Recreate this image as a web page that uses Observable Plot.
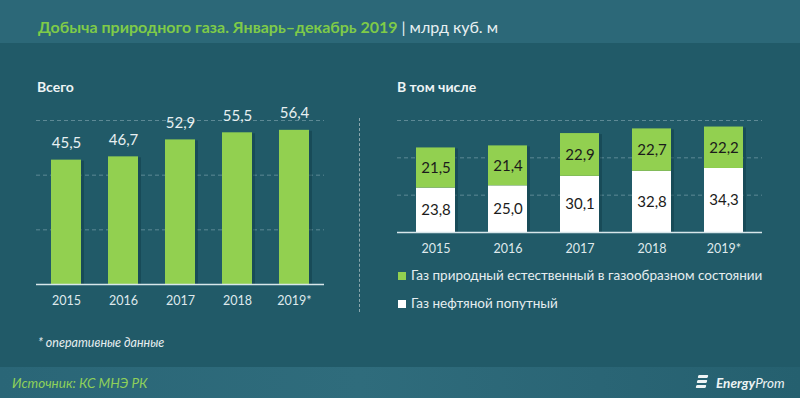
<!DOCTYPE html>
<html><head><meta charset="utf-8">
<script src="https://cdn.jsdelivr.net/npm/d3@7"></script>
<script src="https://cdn.jsdelivr.net/npm/@observablehq/plot@0.6"></script>
<style>
body{margin:0;background:#215a68;}
#root{position:relative;width:800px;height:398px;overflow:hidden;background:#215a68;font-family:Lato,"Open Sans",sans-serif;}
#header{position:absolute;left:0;top:0;width:800px;height:43px;background:#2c6878;}
#title{position:absolute;left:38px;top:17px;font-size:16px;font-weight:bold;color:#7fcb48;white-space:nowrap;line-height:20px;}
#title span{color:#e8f0f2;font-weight:normal;}
.hd{position:absolute;font-size:14px;font-weight:bold;color:#eef4f5;line-height:18px;white-space:nowrap;}
#sep{position:absolute;left:359px;top:118px;width:0;height:194px;border-left:1px dashed #8aa7ae;}
#footer{position:absolute;left:0;top:367px;width:800px;height:31px;background:linear-gradient(90deg,#2a6677 0%,#2f6c7c 45%,#2a6575 75%,#25606f 100%);}
#note{position:absolute;left:38px;top:335px;font-size:12.5px;font-style:italic;color:#e6eef0;white-space:nowrap;}
#source{position:absolute;left:12px;top:375px;font-size:13.5px;font-style:italic;color:#8fd05a;white-space:nowrap;}
#logo{position:absolute;left:716px;top:375px;font-size:13.5px;font-style:italic;color:#eef4f5;white-space:nowrap;}
#logo b{font-weight:bold;}
.stripe{position:absolute;width:10px;height:3px;background:#eef4f5;transform:skewX(-15deg);border-radius:1px;}
.lg{position:absolute;left:398px;font-size:13.5px;color:#e6eef0;white-space:nowrap;line-height:16px;}
.lg i{display:inline-block;width:8px;height:8px;margin-right:5px;vertical-align:0px;}
.chart{position:absolute;}
</style></head>
<body>
<div id="root">
  <div id="header"></div>
  <div id="title">Добыча природного газа. Январь–декабрь 2019 <span>| млрд куб. м</span></div>
  <div class="hd" style="left:37px;top:78px;">Всего</div>
  <div class="hd" style="left:397px;top:78px;">В том числе</div>
  <div id="sep"></div>
  <div id="leftChart" class="chart" style="left:0px;top:100px;"></div>
  <div id="rightChart" class="chart" style="left:380px;top:100px;"></div>
  <div class="lg" style="top:267px;"><i style="background:#92d050"></i>Газ природный естественный в газообразном состоянии</div>
  <div class="lg" style="top:295px;"><i style="background:#ffffff"></i>Газ нефтяной попутный</div>
  <div id="note">* оперативные данные</div>
  <div id="footer"></div>
  <div id="source">Источник: КС МНЭ РК</div>
  <div class="stripe" style="left:698px;top:375px;"></div>
  <div class="stripe" style="left:697px;top:380px;"></div>
  <div class="stripe" style="left:696px;top:385px;"></div>
  <div id="logo"><b>Energy</b>Prom</div>
</div>
<script>
const years = ["2015", "2016", "2017", "2018", "2019*"];
const totals = [45.5, 46.7, 52.9, 55.5, 56.4];
const naturalGas = [21.5, 21.4, 22.9, 22.7, 22.2];
const associatedGas = [23.8, 25.0, 30.1, 32.8, 34.3];
const gridTicks = [20, 40, 60];
const seriesNames = ["Газ нефтяной попутный", "Газ природный естественный в газообразном состоянии"];

const fmt = v => v.toFixed(1).replace(".", ",");
const GREEN = "#92d050";
const FONT = "Lato, 'Open Sans', sans-serif";

const totalData = years.map((y, i) => ({year: y, value: totals[i]}));
const stackData = [];
years.forEach((y, i) => {
  stackData.push({year: y, type: seriesNames[0], value: associatedGas[i]});
  stackData.push({year: y, type: seriesNames[1], value: naturalGas[i]});
});

const left = Plot.plot({
  width: 350, height: 215,
  marginTop: 20, marginBottom: 31, marginLeft: 36, marginRight: 26,
  style: {background: "transparent", color: "#dfe9ec", fontFamily: FONT, fontSize: "12.5px", overflow: "visible"},
  x: {domain: years, paddingInner: 0.47, paddingOuter: 0.26, label: null, tickSize: 0, tickPadding: 12},
  y: {domain: [0, 60], axis: null},
  marks: [
    Plot.ruleY(gridTicks, {stroke: "#5d8995", strokeDasharray: "4,3", strokeWidth: 1}),
    Plot.barY(totalData, {x: "year", y: "value", fill: "#0e3a45", fillOpacity: 0.45, dx: 3, dy: 1}),
    Plot.barY(totalData, {x: "year", y: "value", fill: GREEN}),
    Plot.ruleY([0], {stroke: "#d8e6ea", strokeWidth: 1.5}),
    Plot.text(totalData, {x: "year", y: "value", text: d => fmt(d.value), dy: -17, fill: "#e8f0f2", fontSize: 15})
  ]
});
document.getElementById("leftChart").appendChild(left);

const right = Plot.plot({
  width: 400, height: 162,
  marginTop: 20, marginBottom: 30, marginLeft: 17, marginRight: 18,
  style: {background: "transparent", color: "#dfe9ec", fontFamily: FONT, fontSize: "12.5px", overflow: "visible"},
  x: {domain: years, paddingInner: 0.46, paddingOuter: 0.24, label: null, tickSize: 0, tickPadding: 12},
  y: {domain: [0, 60], axis: null},
  color: {domain: seriesNames, range: ["#ffffff", GREEN]},
  marks: [
    Plot.ruleY(gridTicks, {stroke: "#5d8995", strokeDasharray: "4,3", strokeWidth: 1}),
    Plot.barY(stackData, Plot.stackY({x: "year", y: "value", fill: "#0e3a45", fillOpacity: 0.45, dx: 3, dy: 1})),
    Plot.barY(stackData, Plot.stackY({x: "year", y: "value", fill: "type"})),
    Plot.ruleY([0], {stroke: "#d8e6ea", strokeWidth: 1.5}),
    Plot.text(stackData, Plot.stackY({x: "year", y: "value", text: d => fmt(d.value), fill: "#1b1b1b", fontSize: 15}))
  ]
});
document.getElementById("rightChart").appendChild(right);
</script>
</body></html>
